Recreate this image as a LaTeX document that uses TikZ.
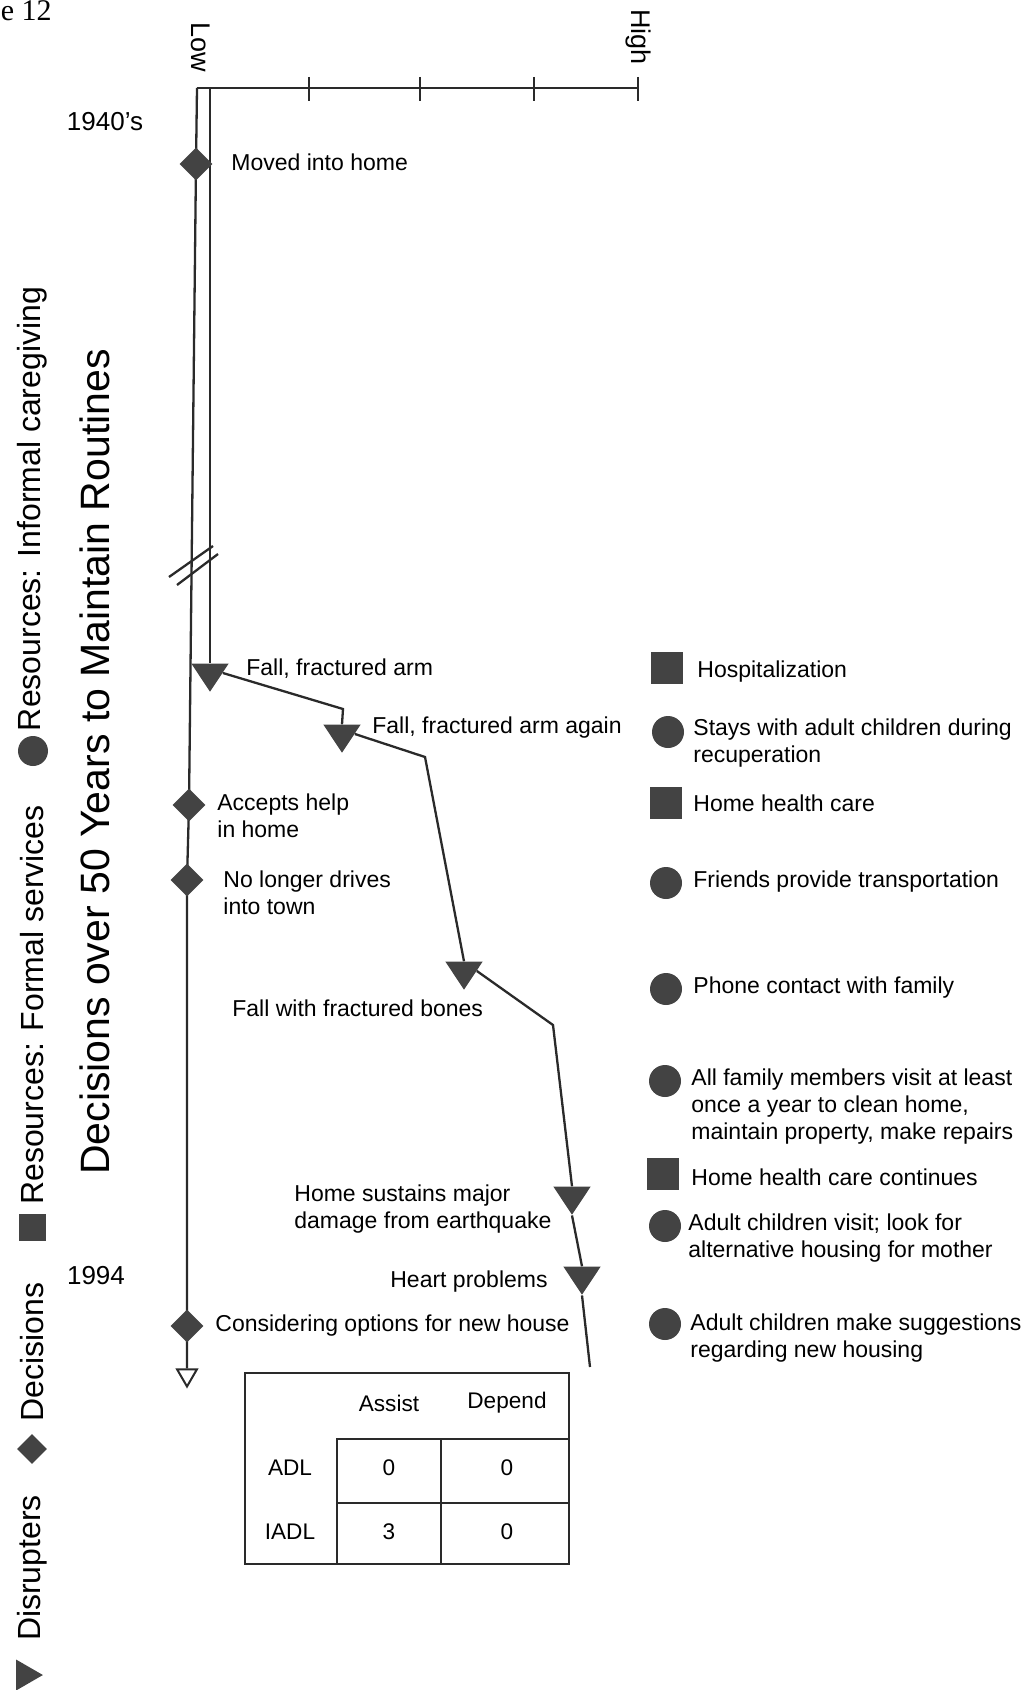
\documentclass[tikz,border=0pt]{standalone}
\usepackage{fontspec}
\setmainfont{Liberation Sans}
\newfontfamily\pageserif{Liberation Serif}
\usetikzlibrary{shapes.geometric}
\definecolor{ink}{HTML}{2A2A2A}
\definecolor{mark}{HTML}{434343}
\pgfdeclarelayer{lines}
\pgfsetlayers{lines,main}

\begin{document}
\begin{tikzpicture}[x=0.5pt,y=-0.5pt,
  line/.style={draw=ink,line width=1.15pt},
  thin/.style={draw=ink,line width=0.9pt},
  decision/.style={diamond,fill=mark,inner sep=0pt,minimum width=16.5pt,minimum height=16.5pt},
  disrupter/.style={regular polygon,regular polygon sides=3,shape border rotate=180,
    fill=mark,inner sep=0pt,minimum size=21.5pt,yscale=0.87},
  formal/.style={rectangle,fill=mark,inner sep=0pt,minimum size=16pt},
  informal/.style={circle,fill=mark,inner sep=0pt,minimum size=16pt},
  lbl/.style={anchor=west,align=left,inner sep=0pt,font=\fontsize{11.5}{13.5}\selectfont},
  lblr/.style={anchor=east,align=right,inner sep=0pt,font=\fontsize{11.5}{13.5}\selectfont},
  cell/.style={inner sep=0pt,font=\fontsize{11.3}{13.5}\selectfont},
  year/.style={inner sep=0pt,font=\fontsize{13}{15}\selectfont},
  scalelbl/.style={inner sep=0pt,rotate=-90,font=\fontsize{13.5}{16}\selectfont},
  legend/.style={inner sep=0pt,rotate=90,font=\fontsize{16}{19}\selectfont}
]
\useasboundingbox (0,0) rectangle (1030,1690);

% page number fragment
\node[anchor=base east,inner sep=0pt,font=\pageserif\fontsize{15}{18}\selectfont] (pg) at (52,21) {e 12};

% ---- legend and title (rotated) ----
\node[regular polygon,regular polygon sides=3,shape border rotate=-90,fill=mark,
      inner sep=0pt,minimum size=17.9pt] (keyD) at (25,1675) {};
\node[legend] (keyDt) at (32,1568) {Disrupters};
\node[decision,minimum width=15pt,minimum height=15pt] (keyC) at (32,1449) {};
\node[legend] (keyCt) at (32,1352) {Decisions};
\node[formal,minimum size=13.5pt] (keyF) at (32,1227) {};
\node[legend] (keyFt) at (32,1005) {Resources: Formal services};
\node[informal,minimum size=15pt] (keyI) at (33,751) {};
\node[legend] (keyIt) at (32,509) {Resources: Informal caregiving};
\node[inner sep=0pt,rotate=90,font=\fontsize{20.5}{24}\selectfont] (title) at (95,762)
  {Decisions over 50 Years to Maintain Routines};

% ---- years ----
\node[year] (y1) at (105,122) {1940’s};
\node[year] (y2) at (96,1276) {1994};

% ---- scale axis ----
\coordinate (corner) at (197,88);
\coordinate (innertop) at (210,88);
\coordinate (axisend) at (638,88);
\draw[line] (corner) -- (axisend);
\foreach \tx in {309,420,534,638}
  \draw[line] (\tx,77) -- (\tx,101);
\node[scalelbl] (low) at (201,47) {Low};
\node[scalelbl] (high) at (638,37) {High};

% ---- markers on the timeline ----
\node[decision] (m1) at (196,164) {};
\node[decision] (m2) at (189,805) {};
\node[decision] (m3) at (187,880) {};
\node[decision] (m4) at (187,1326) {};
\node[regular polygon,regular polygon sides=3,shape border rotate=180,draw=ink,
      line width=1pt,fill=white,inner sep=0pt,minimum size=11.5pt] (tend) at (187,1375) {};

\node[disrupter] (t1) at (210,673) {};
\node[disrupter] (t2) at (342,734) {};
\node[disrupter] (t3) at (464,971) {};
\node[disrupter] (t4) at (572,1196) {};
\node[disrupter] (t5) at (582,1276) {};

\coordinate (b1) at (343,709);
\coordinate (b2) at (425,757);
\coordinate (b3) at (553,1025);
\coordinate (trend) at (590,1367);

% timeline lines, kept beneath the markers
\begin{pgfonlayer}{lines}
\draw[line] (corner) -- (m1.center) -- (m2.center) -- (m3.center) -- (m4.center) -- (tend.north);
\draw[line] (innertop) -- (t1.north);
\draw[line] (t1.east) -- (b1) -- (t2.north);
\draw[line] (t2.east) -- (b2) -- (t3.north);
\draw[line] (t3.east) -- (b3) -- (t4.north);
\draw[line] (t4.south) -- (t5.north);
\draw[line] (t5.south) -- (trend);
\end{pgfonlayer}

% break marks on the double line
\draw[line] (169,577) -- (213,546);
\draw[line] (177,585) -- (218,554);

% ---- timeline labels ----
\node[lbl] (m1t) at (231,162) {Moved into home};
\node[lbl] (m2t) at (217,816) {Accepts help\\in home};
\node[lbl] (m3t) at (223,893) {No longer drives\\into town};
\node[lbl] (m4t) at (215,1326) {Considering options for new house};
\node[lbl] (t1t) at (246,669) {Fall, fractured arm};
\node[lbl] (t2t) at (372,728) {Fall, fractured arm again};
\node[lbl] (t3t) at (232,1008) {Fall with fractured bones};
\node[lbl] (t4t) at (294,1209) {Home sustains major\\damage from earthquake};
\node[lblr] (t5t) at (548,1282) {Heart problems};

% ---- resources ----
\node[formal] (r1) at (667,668) {};
\node[lbl] (r1t) at (697,672) {Hospitalization};
\node[informal] (r2) at (668,732) {};
\node[lbl] (r2t) at (693,743) {Stays with adult children during\\recuperation};
\node[formal] (r3) at (666,803) {};
\node[lbl] (r3t) at (693,803) {Home health care};
\node[informal] (r4) at (666,883) {};
\node[lbl] (r4t) at (693,882) {Friends provide transportation};
\node[informal] (r5) at (666,989) {};
\node[lbl] (r5t) at (693,988) {Phone contact with family};
\node[informal] (r6) at (665,1081) {};
\node[lbl] (r6t) at (691,1107) {All family members visit at least\\once a year to clean home,\\maintain property, make repairs};
\node[formal] (r7) at (663,1174) {};
\node[lbl] (r7t) at (691,1177) {Home health care continues};
\node[informal] (r8) at (665,1226) {};
\node[lbl] (r8t) at (688,1238) {Adult children visit; look for\\alternative housing for mother};
\node[informal] (r9) at (665,1324) {};
\node[lbl] (r9t) at (690,1338) {Adult children make suggestions\\regarding new housing};

% ---- ADL / IADL table ----
\draw[thin] (245,1373) rectangle (569,1564);
\draw[thin] (337,1564) -- (337,1439) -- (569,1439);
\draw[thin] (337,1503) -- (569,1503);
\draw[thin] (441,1439) -- (441,1564);
\node[cell] (hA) at (389,1403) {Assist};
\node[cell] (hD) at (507,1403) {Depend};
\node[cell] (rA) at (290,1468) {ADL};
\node[cell] (rI) at (290,1532) {IADL};
\node[cell] (c11) at (389,1468) {0};
\node[cell] (c12) at (507,1468) {0};
\node[cell] (c21) at (389,1532) {3};
\node[cell] (c22) at (507,1532) {0};
\end{tikzpicture}
\end{document}
